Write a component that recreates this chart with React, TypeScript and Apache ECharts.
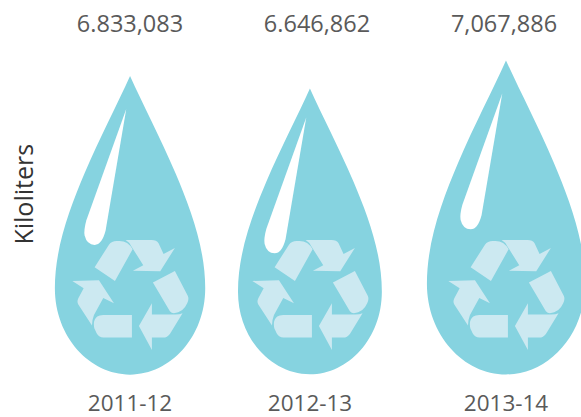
import React, { useEffect, useRef } from "react";
import * as echarts from "echarts";

const periods = ["2011-12", "2012-13", "2013-14"];
const kiloliters = [6833083, 6646862, 7067886];
const valueLabels = ["6.833,083", "6.646,862", "7,067,886"];
const axisName = "Kiloliters";

const Y_MIN = 2363000;
const Y_MAX = 7763000;
const GRID_LEFTS = [55, 235, 431];
const GRID_WIDTH = 150;
const GRID_TOP = 14;
const GRID_BOTTOM = 42.5;
const HIGHLIGHT_DROP = [33, 29, 33];
const LABEL_SHIFT = [0, 7, -2];
const FONT = "'Open Sans', sans-serif";
const TEXT = "#5a5a5a";

const BODY =
  "M256 40 C220 120 170 215 125 320 C85 415 40 530 40 650 C40 790 140 898 256 898 C372 898 472 790 472 650 C472 530 427 415 387 320 C342 215 292 120 256 40 Z";
const HIGHLIGHT =
  "M245 85 L125 420 Q117 450 120 465 Q127 493 150 493 Q172 493 183 450 Z";
const RECYCLE =
  "M104 112 L147 44 Q155 33 170 33 L178 33 Q205 33 218 58 L165 153 Z " +
  "M197 30 L275 30 Q290 30 296 40 L311 72 L345 54 L301 124 L219 122 L250 106 L215 50 Q208 36 197 30 Z " +
  "M279 158 L345 123 L384 198 Q388 208 382 220 Q370 248 342 250 Q335 250 330 244 Z " +
  "M368 250 L330 312 Q322 323 310 323 L276 323 L276 360 L237 288 L276 220 L276 254 L345 254 Q360 254 368 250 Z " +
  "M216 255 L216 323 L130 323 Q118 323 110 310 L103 295 Q98 270 112 260 Q118 255 130 255 Z " +
  "M37 153 L117 151 L162 220 L130 204 L102 255 Q96 270 96 287 L55 224 Q50 215 55 205 L71 175 Z";

function dropRenderer(i: number) {
  return (params: any, api: any) => {
    const [cx, tip] = api.coord([api.value(0), api.value(1)]);
    const base = api.coord([api.value(0), Y_MIN])[1];
    const s = (base - tip) / 858;
    return {
      type: "group",
      children: [
        {
          type: "path",
          x: cx - 256 * s,
          y: tip - 40 * s,
          scaleX: s,
          scaleY: s,
          shape: { pathData: BODY },
          style: { fill: "#86d3e0" },
        },
        {
          type: "path",
          x: cx - 256 / 3,
          y: tip + HIGHLIGHT_DROP[i] - 85 / 3,
          scaleX: 1 / 3,
          scaleY: 1 / 3,
          shape: { pathData: HIGHLIGHT },
          style: { fill: "#ffffff" },
        },
        {
          type: "path",
          x: cx - 70,
          y: base - 144.5,
          scaleX: 1 / 3,
          scaleY: 1 / 3,
          shape: { pathData: RECYCLE },
          style: { fill: "#cce9f1" },
        },
        {
          type: "text",
          x: cx + LABEL_SHIFT[i],
          y: params.coordSys.y + 9,
          style: {
            text: valueLabels[i],
            fill: TEXT,
            fontSize: 23.5,
            fontFamily: FONT,
            align: "center",
            verticalAlign: "middle",
          },
        },
      ],
    };
  };
}

export default function App() {
  const ref = useRef<HTMLDivElement>(null);
  useEffect(() => {
    const chart = echarts.init(ref.current!, null, { renderer: "svg" });
    chart.setOption({
      animation: false,
      grid: GRID_LEFTS.map((left) => ({
        left,
        width: GRID_WIDTH,
        top: GRID_TOP,
        bottom: GRID_BOTTOM,
      })),
      xAxis: periods.map((p, i) => ({
        type: "category",
        gridIndex: i,
        data: [p],
        axisLine: { show: false },
        axisTick: { show: false },
        axisLabel: {
          color: TEXT,
          fontSize: 22.5,
          fontFamily: FONT,
          margin: 16,
        },
      })),
      yAxis: periods.map((_, i) => ({
        type: "value",
        gridIndex: i,
        min: Y_MIN,
        max: Y_MAX,
        show: i === 0,
        name: i === 0 ? axisName : undefined,
        nameLocation: "middle",
        nameGap: 20,
        nameTextStyle: { color: "#333333", fontSize: 25, fontFamily: FONT },
        axisLine: { show: false },
        axisTick: { show: false },
        axisLabel: { show: false },
        splitLine: { show: false },
      })),
      series: periods.map((p, i) => ({
        type: "custom",
        coordinateSystem: "cartesian2d",
        xAxisIndex: i,
        yAxisIndex: i,
        clip: false,
        silent: true,
        encode: { x: 0, y: 1 },
        data: [[p, kiloliters[i]]],
        renderItem: dropRenderer(i),
      })),
    });
    return () => chart.dispose();
  }, []);
  return (
    <div
      ref={ref}
      style={{ position: "absolute", left: 0, top: 0, width: 581, height: 417 }}
    />
  );
}
